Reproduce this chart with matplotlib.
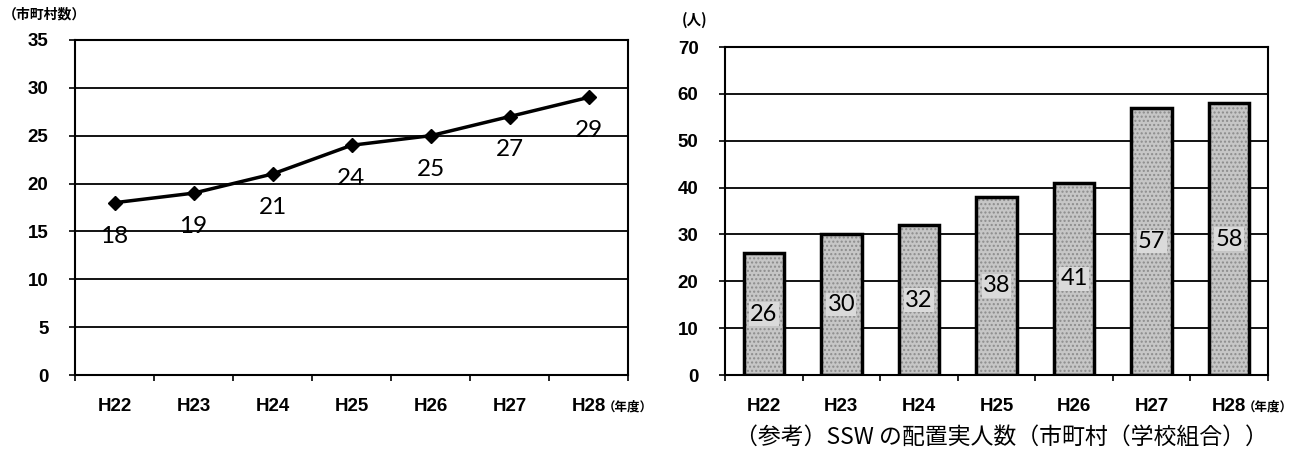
import matplotlib.pyplot as plt
import numpy as np

# data
years = ['H22', 'H23', 'H24', 'H25', 'H26', 'H27', 'H28']
towns = [18, 19, 21, 24, 25, 27, 29]          # 市町村数
ssw_people = [26, 30, 32, 38, 41, 57, 58]    # SSW の配置実人数

jp = ['Noto Sans CJK JP', 'DejaVu Sans']
tick_font = dict(family='Liberation Sans', fontsize=13.5, fontweight='bold')

fig = plt.figure(figsize=(13.1, 4.54), dpi=100)
ax1 = fig.add_axes([75 / 1310, 1 - 375 / 454, 553 / 1310, 335 / 454])
ax2 = fig.add_axes([725 / 1310, 1 - 375 / 454, 543 / 1310, 328 / 454])

x = np.arange(len(years))


def style_axes(ax, ymax, ystep):
    ax.set_xlim(-0.5, len(years) - 0.5)
    ax.set_ylim(0, ymax)
    ax.set_yticks(np.arange(0, ymax + 1, ystep))
    ax.yaxis.grid(True, color='black', linewidth=1.3)
    ax.set_axisbelow(True)
    for s in ax.spines.values():
        s.set_color('black')
        s.set_linewidth(1.5)
    # boundaries get the little tick marks, centres get the labels
    ax.set_xticks(np.arange(-0.5, len(years) + 0.5, 1))
    ax.set_xticklabels([])
    ax.set_xticks(x, minor=True)
    ax.set_xticklabels(years, minor=True, **tick_font)
    ax.tick_params(axis='x', which='major', length=4, width=1.2, direction='out')
    ax.tick_params(axis='x', which='minor', length=0, pad=16.5)
    ax.tick_params(axis='y', length=4, width=1.2, direction='out', pad=15)
    for lab in ax.get_yticklabels():
        lab.set_fontfamily(tick_font['family'])
        lab.set_fontsize(tick_font['fontsize'])
        lab.set_fontweight('bold')
    ax.annotate('（年度）', xy=(len(years) - 1, 0), xycoords=('data', 'axes fraction'),
                xytext=(10, -23), textcoords='offset points', ha='left', va='center',
                fontsize=9, fontweight='bold', family=jp)


# left: line chart
style_axes(ax1, 35, 5)
ax1.plot(x, towns, color='black', linewidth=2.5, marker='D', markersize=7)
for xi, v in zip(x, towns):
    ax1.annotate(str(v), xy=(xi, v), xytext=(0, -24), textcoords='offset points',
                 ha='center', va='center', fontsize=17.5, family='Lato')
fig.text(3 / 1310, 1 - 14 / 454, '（市町村数）', fontsize=10, fontweight='bold',
         family=jp, ha='left', va='center')

# right: bar chart
style_axes(ax2, 70, 10)
ax2.bar(x, ssw_people, width=0.52, color='#c6c6c6', edgecolor='#8c8c8c',
        hatch='....', linewidth=0, zorder=2)
bars = ax2.bar(x, ssw_people, width=0.52, fill=False, edgecolor='black',
               linewidth=2.5, zorder=3)
ax2.bar_label(bars, labels=[str(v) for v in ssw_people], label_type='center',
              fontsize=17, family='Lato', zorder=4,
              bbox=dict(boxstyle='square,pad=0.05', facecolor='#dadada', edgecolor='none'))
fig.text(682 / 1310, 1 - 20 / 454, '(人)', fontsize=10.5, fontweight='bold',
         family=jp, ha='left', va='center')

fig.text(1001 / 1310, 1 - 437 / 454, '（参考）SSW の配置実人数（市町村（学校組合））',
         fontsize=16.5, family=jp, ha='center', va='center')

fig.savefig('out.png', dpi=100)
